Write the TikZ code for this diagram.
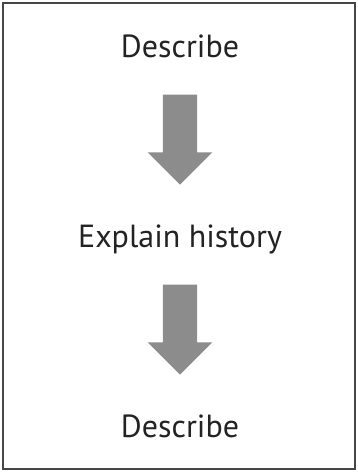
\documentclass[tikz,border=0pt]{standalone}
\usepackage{fontspec}
\setmainfont{PT Sans}
\usetikzlibrary{shapes.arrows, positioning}
\definecolor{myframe}{RGB}{70,70,70}
\definecolor{myarrow}{RGB}{140,140,140}
\definecolor{mytext}{RGB}{35,35,35}
\tikzset{
  stagetext/.style={font=\fontsize{32}{40}\selectfont, text=mytext,
    anchor=base, inner sep=0pt},
  downarrow/.style={single arrow, shape border rotate=270, fill=myarrow,
    draw=none, minimum height=90pt, inner sep=17pt,
    single arrow head extend=15pt, single arrow head indent=0pt},
  frame/.style={draw=myframe, line width=1.2pt}
}
\begin{document}
\begin{tikzpicture}[x=1pt, y=1pt]
  \useasboundingbox (0,0) rectangle (358,-474);
  % outer frame
  \draw[frame] (3,-3) rectangle (355,-469);

  % stages, set on their baselines
  \node[stagetext] (first) at (180,-57) {Describe};
  \node[stagetext] (history) at (180,-247) {Explain history};
  \node[stagetext] (second) at (180,-437) {Describe};

  % block arrows between the stages
  \node[downarrow] (arrA) at (180,-131) {};
  \node[downarrow] (arrB) at (180,-321) {};
\end{tikzpicture}
\end{document}
